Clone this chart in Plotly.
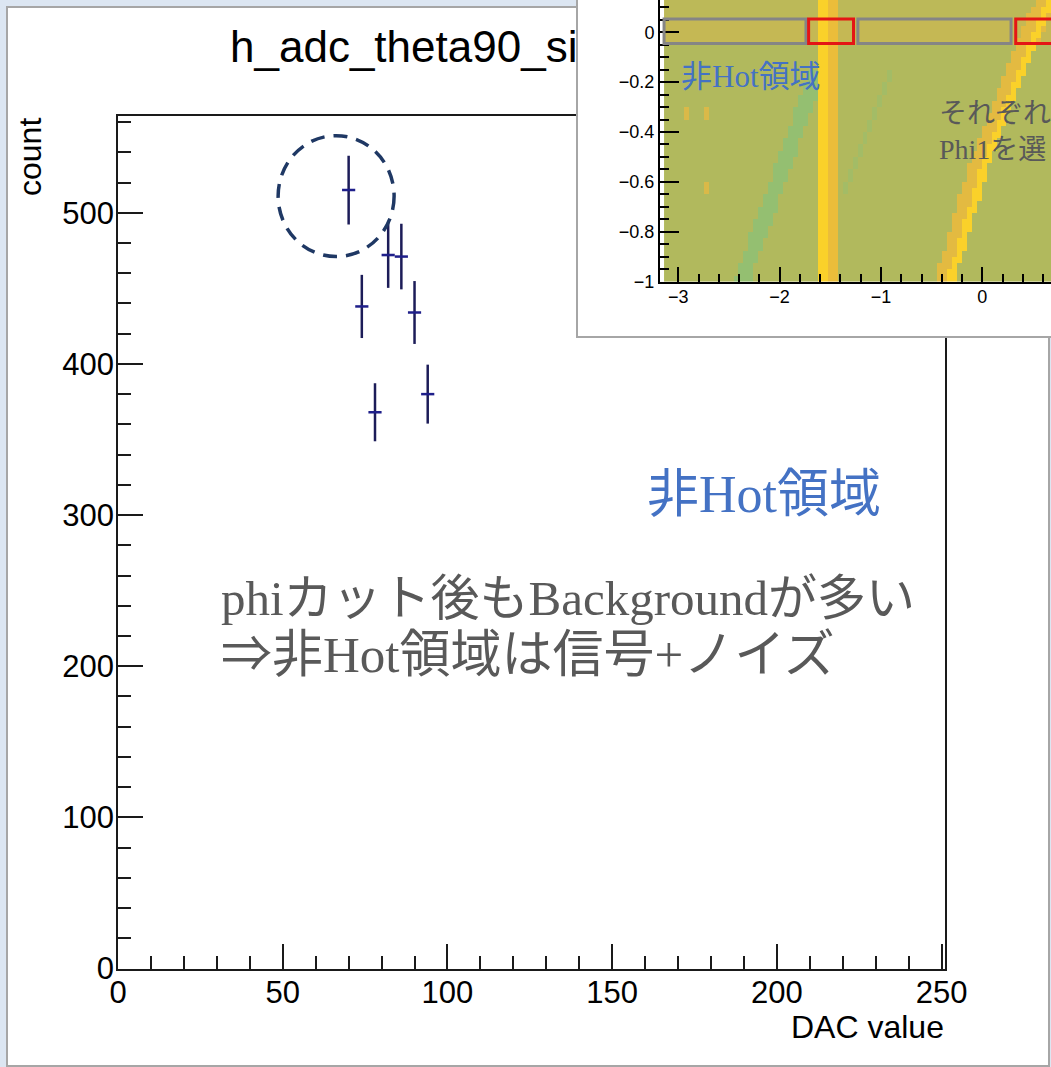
import numpy as np
import plotly.graph_objects as go

# ---------------- main histogram data ----------------
bin_centers = [70, 74, 78, 82, 86, 90, 94]
counts = [515, 438, 368, 472, 471, 434, 380]
count_errors = [22.7, 20.9, 19.2, 21.7, 21.7, 20.8, 19.5]
bin_half_widths = [2, 2, 2, 2, 2, 2, 2]

x_ticks = [0, 50, 100, 150, 200, 250]
y_ticks = [0, 100, 200, 300, 400, 500]

title_text = "h_adc_theta90_si"
x_title = "DAC value"
y_title = "count"

note_region = "非Hot領域"
note_line1 = "phiカット後もBackgroundが多い"
note_line2 = "⇒非Hot領域は信号+ノイズ"
inset_note1 = "それぞれ"
inset_note2 = "Phi1を選"

# ---------------- inset map (phi vs y) description ----------------
inset_x_ticks = [-3, -2, -1, 0]
inset_y_ticks = [0, -0.2, -0.4, -0.6, -0.8, -1]
base_level = 0.5
row_bands = [(-0.05, 0.05, 0.59), (0.05, 0.16, 0.55)]           # (y0, y1, level)
diag_bands = [                                                   # ([y pts], [x pts], width, level)
    ([-1.0, -0.15], [-2.37, -1.62], 0.16, 0.15),
    ([-0.66, -0.15], [-1.39, -0.88], 0.05, 0.33),
    ([-1.0, -0.5, 0.16], [-0.37, -0.01, 0.66], 0.20, 0.76),
    ([-1.0, -0.5, 0.16], [-0.31, 0.05, 0.71], 0.08, 1.0),
]
vert_bands = [(-1.60, -1.50, 1.0), (-1.50, -1.41, 0.82)]        # (x0, x1, level)
hot_spots = [(-2.96, -2.91, -0.34, -0.29, 0.7), (-2.75, -2.70, -0.34, -0.29, 0.7),
             (-2.75, -2.70, -0.64, -0.59, 0.7)]
gray_boxes = [(-3.14, -1.74), (-1.228, 0.283)]
red_boxes = [(-1.714, -1.271), (0.329, 0.77)]
box_y = (-0.045, 0.053)

hm_dx, hm_dy = 0.049, 0.025
hm_x = np.arange(-3.14 + hm_dx / 2, 0.72, hm_dx)
hm_y = np.arange(-1.0 + hm_dy / 2, 0.16, hm_dy)
X, Y = np.meshgrid(hm_x, hm_y)
Z = np.full(X.shape, base_level)
for y0, y1, lvl in row_bands:
    Z[(Y >= y0) & (Y < y1)] = lvl
for ys, xs, w, lvl in diag_bands:
    xc = np.interp(Y, ys, xs)
    m = (np.abs(X - xc) < w / 2) & (Y >= ys[0]) & (Y <= ys[-1])
    Z[m] = lvl
for x0, x1, y0, y1, lvl in hot_spots:
    Z[(X >= x0) & (X < x1) & (Y >= y0) & (Y < y1)] = lvl
for x0, x1, lvl in vert_bands:
    Z[(X >= x0) & (X < x1)] = lvl

W, H = 1051, 1067
AX_FONT = "Liberation Sans, Arial, sans-serif"
TXT_FONT = "Liberation Serif, 'Noto Sans CJK JP', serif"
NAVY = "#1f1f8a"

def fx(p):
    return p / W

def fy(p):
    return 1 - p / H

fig = go.Figure()

fig.add_trace(go.Scatter(
    x=bin_centers, y=counts, mode="markers",
    marker=dict(size=1, color=NAVY),
    error_y=dict(type="data", array=count_errors, width=0, thickness=2.5, color="#1c1c58"),
    error_x=dict(type="data", array=bin_half_widths, width=0, thickness=2.5, color=NAVY),
    xaxis="x", yaxis="y", showlegend=False, hoverinfo="skip"))

fig.add_trace(go.Scatter(x=[], y=[], xaxis="x2", yaxis="y2", showlegend=False))

fig.add_trace(go.Heatmap(
    x=hm_x, y=hm_y, z=Z, zmin=0, zmax=1, showscale=False, xaxis="x3", yaxis="y3",
    colorscale=[[0.0, "#86c07a"], [0.3, "#a1bd68"], [0.5, "#b1b95d"],
                [0.65, "#d3b84e"], [0.8, "#e9bb3c"], [1.0, "#fad12a"]],
    hoverinfo="skip"))

axis_common = dict(showline=True, linecolor="#1a1a1a", linewidth=1.5, mirror=True,
                   ticks="inside", tickwidth=1.5, tickcolor="#1a1a1a", ticklen=25,
                   showgrid=False, zeroline=False, fixedrange=True, automargin=False,
                   tickfont=dict(family=AX_FONT, size=31, color="black"))

box_axis = dict(range=[0, 1], showline=True, linecolor="#a6a6a6", linewidth=2, ticks="",
                showticklabels=False, showgrid=False, zeroline=False, fixedrange=True,
                automargin=False)

inset_axis = dict(showline=True, linecolor="black", linewidth=2, ticks="inside", tickwidth=1.5,
                  tickcolor="black", tickmode="array", showgrid=False, zeroline=False,
                  fixedrange=True, automargin=False,
                  tickfont=dict(family=AX_FONT, size=18, color="black"))

shapes = [
    dict(type="rect", xref="paper", yref="paper", x0=fx(7), x1=fx(1049), y0=fy(1066), y1=fy(7),
         fillcolor="white", line=dict(color="#a6a6a6", width=2), layer="below"),
    dict(type="circle", xref="x", yref="y", x0=48.6, x1=83.8, y0=471, y1=551,
         line=dict(color="#1f3864", width=3.5, dash="14px,9px"), layer="above"),
]
for x0, x1 in gray_boxes:
    shapes.append(dict(type="rect", xref="x3", yref="y3", x0=x0, x1=x1, y0=box_y[0], y1=box_y[1],
                       line=dict(color="#858585", width=3), layer="above"))
for x0, x1 in red_boxes:
    shapes.append(dict(type="rect", xref="x3", yref="y3", x0=x0, x1=x1, y0=box_y[0], y1=box_y[1],
                       line=dict(color="#e41515", width=3), layer="above"))

def ann(text, x, y, size, color, family, xanchor="left", yanchor="middle", angle=0):
    return dict(text=text, x=x, y=y, xref="paper", yref="paper", xanchor=xanchor,
                yanchor=yanchor, showarrow=False, textangle=angle,
                font=dict(family=family, size=size, color=color))

annotations = [
    ann(title_text, fx(228), fy(46), 44, "black", AX_FONT),
    ann(y_title, fx(30), fy(157), 32, "black", AX_FONT, xanchor="center", angle=-90),
    ann(x_title, fx(946), fy(1027), 32, "black", AX_FONT, xanchor="right"),
    ann(note_region, fx(645), fy(494), 52, "#4472c4", TXT_FONT),
    ann(note_line1, fx(219), fy(598), 49, "#595959", TXT_FONT),
    ann(note_line2, fx(219), fy(655), 51, "#595959", TXT_FONT),
    ann(note_region, fx(679), fy(77), 31, "#4472c4", TXT_FONT),
    ann(inset_note1, fx(937), fy(113), 28, "#595959", TXT_FONT),
    ann(inset_note2, fx(937), fy(150), 28, "#595959", TXT_FONT),
]

fig.update_layout(
    template="none",
    width=W, height=H, autosize=False,
    margin=dict(l=0, r=0, t=0, b=0, pad=0),
    paper_bgcolor="#dce6f2", plot_bgcolor="white",
    xaxis=dict(axis_common, domain=[fx(118), fx(945)], range=[0, 251], anchor="y",
               tickmode="array", tickvals=x_ticks, ticklabelstandoff=-4,
               minor=dict(tickmode="linear", tick0=0, dtick=10, ticks="inside", ticklen=13,
                          tickwidth=1.5, tickcolor="#1a1a1a")),
    yaxis=dict(axis_common, domain=[fy(968.5), fy(116)], range=[0, 564], anchor="x",
               tickmode="array", tickvals=y_ticks, ticklabelstandoff=-4,
               minor=dict(tickmode="linear", tick0=0, dtick=20, ticks="inside", ticklen=13,
                          tickwidth=1.5, tickcolor="#1a1a1a")),
    xaxis2=dict(box_axis, domain=[fx(577.7), 1], anchor="y2"),
    yaxis2=dict(box_axis, domain=[fy(336), 1], anchor="x2"),
    xaxis3=dict(inset_axis, domain=[fx(660), 1], range=[-3.18, 0.677], anchor="y3",
                ticklen=15, tickvals=inset_x_ticks, ticklabelstandoff=-2,
                minor=dict(tickmode="linear", tick0=0, dtick=0.2, ticks="inside", ticklen=8,
                           tickwidth=1.5, tickcolor="black")),
    yaxis3=dict(inset_axis, domain=[fy(281.7), 1], range=[-1, 0.129], anchor="x3",
                ticklen=19, tickvals=inset_y_ticks,
                minor=dict(tickmode="linear", tick0=0, dtick=0.05, ticks="inside", ticklen=9,
                           tickwidth=1.5, tickcolor="black")),
    shapes=shapes,
    annotations=annotations,
)

fig.write_html(
    "out.html",
    post_script="document.documentElement.style.margin='0';document.body.style.margin='0';"
                "document.body.style.padding='0';document.body.style.overflow='hidden';",
)
